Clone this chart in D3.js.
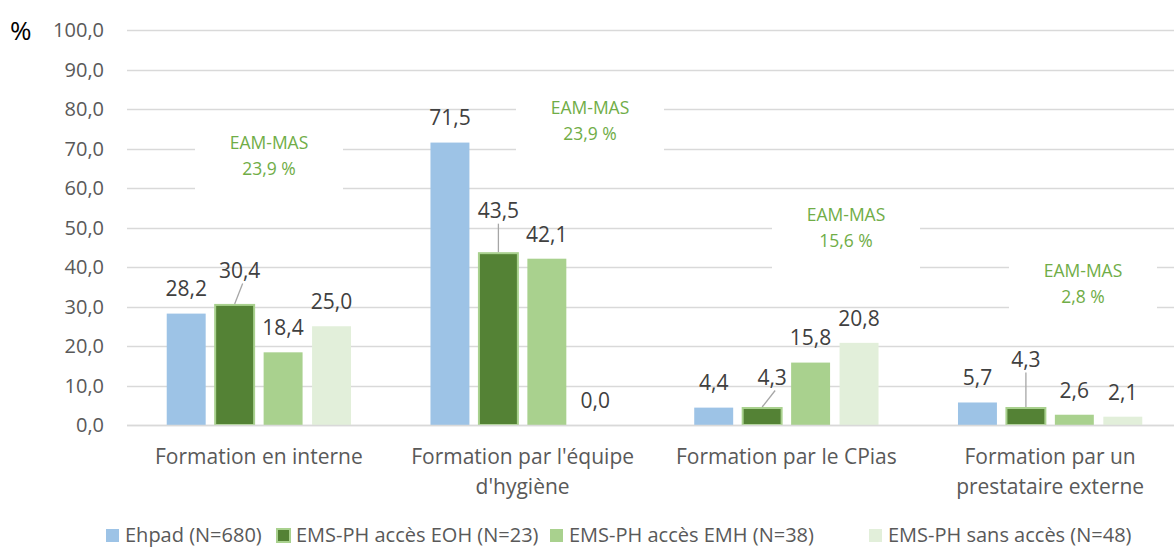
<!DOCTYPE html>
<html>
<head>
<meta charset="utf-8">
<script src="https://cdn.jsdelivr.net/npm/d3@7"></script>
<style>
  body { margin: 0; background: #fff; }
  svg { font-family: 'Open Sans', 'Noto Sans', sans-serif; }
</style>
</head>
<body>
<svg id="chart" width="1174" height="548"></svg>
<script>
// categories and series
const categories = [
  ["Formation en interne"],
  ["Formation par l'équipe", "d'hygiène"],
  ["Formation par le CPias"],
  ["Formation par un", "prestataire externe"]
];
const seriesNames = [
  "Ehpad (N=680)",
  "EMS-PH accès EOH (N=23)",
  "EMS-PH accès EMH (N=38)",
  "EMS-PH sans accès (N=48)"
];
const ehpad = [28.2, 71.5, 4.4, 5.7];
const accesEOH = [30.4, 43.5, 4.3, 4.3];
const accesEMH = [18.4, 42.1, 15.8, 2.6];
const sansAcces = [25.0, 0.0, 20.8, 2.1];
const eamMas = ["23,9 %", "23,9 %", "15,6 %", "2,8 %"];
const yTicks = [0, 10, 20, 30, 40, 50, 60, 70, 80, 90, 100];

const colors = ["#9DC3E6", "#548235", "#A9D18E", "#E2EFDA"];

const svg = d3.select("#chart");
const width = 1174;
const margin = { left: 127, right: -8, top: 30, bottom: 123 };
const y0 = 425;

const x0 = d3.scaleBand()
  .domain(d3.range(categories.length))
  .range([margin.left, width - margin.right]);

const x1 = d3.scaleBand()
  .domain(d3.range(seriesNames.length))
  .range([0, x0.bandwidth()])
  .paddingInner(0.196)
  .paddingOuter(0.82);

const y = d3.scaleLinear().domain([0, 100]).range([y0, margin.top]);

// gridlines
svg.append("g")
  .selectAll("line")
  .data(yTicks)
  .join("line")
  .attr("x1", margin.left)
  .attr("x2", width)
  .attr("y1", d => Math.round(y(d)) + 0.5)
  .attr("y2", d => Math.round(y(d)) + 0.5)
  .attr("stroke", "#D9D9D9")
  .attr("stroke-width", 1.3);

// y tick labels
svg.append("g")
  .selectAll("text")
  .data(yTicks)
  .join("text")
  .attr("x", 104)
  .attr("y", d => y(d))
  .attr("dy", "0.35em")
  .attr("text-anchor", "end")
  .attr("font-size", 20)
  .attr("fill", "#595959")
  .text(d => d3.format(".1f")(d).replace(".", ","));

svg.append("text")
  .attr("x", 10)
  .attr("y", 31)
  .attr("dy", "0.35em")
  .attr("font-size", 26)
  .attr("fill", "#000")
  .text("%");

// EAM-MAS annotation boxes (white background hides gridlines)
const annY = [143, 108, 215, 271];
const annX = [269, 590, 846, 1083];
const ann = svg.append("g");
eamMas.forEach((v, i) => {
  ann.append("rect")
    .attr("x", annX[i] - 74)
    .attr("y", annY[i] - 22)
    .attr("width", 148)
    .attr("height", 26 + 52)
    .attr("fill", "#fff");
  ann.append("text")
    .attr("x", annX[i]).attr("y", annY[i]).attr("dy", "0.35em")
    .attr("text-anchor", "middle").attr("font-size", 17.5).attr("fill", "#70AD47")
    .text("EAM-MAS");
  ann.append("text")
    .attr("x", annX[i]).attr("y", annY[i] + 26).attr("dy", "0.35em")
    .attr("text-anchor", "middle").attr("font-size", 17.5).attr("fill", "#70AD47")
    .text(v);
});

// bars
const allSeries = [ehpad, accesEOH, accesEMH, sansAcces];
const rows = [];
allSeries.forEach((vals, s) => vals.forEach((v, c) => rows.push({ s, c, v })));

svg.append("g")
  .selectAll("rect")
  .data(rows)
  .join("rect")
  .attr("x", d => x0(d.c) + x1(d.s))
  .attr("y", d => y(d.v))
  .attr("width", x1.bandwidth())
  .attr("height", d => y0 - y(d.v))
  .attr("fill", d => colors[d.s])
  .attr("stroke", d => d.s === 1 ? "#A9D18E" : "none")
  .attr("stroke-width", 2);

// axis baseline
svg.append("line")
  .attr("x1", margin.left).attr("x2", width)
  .attr("y1", y0 + 0.5).attr("y2", y0 + 0.5)
  .attr("stroke", "#D9D9D9").attr("stroke-width", 1.3);

// value labels; the EOH labels were moved and get a leader line
const moved = { "1-0": [5, -10], "1-1": [0, -18], "1-2": [10, -6], "1-3": [0, -24] };
const fmt = v => d3.format(".1f")(v).replace(".", ",");
const labels = svg.append("g");
rows.forEach(d => {
  const cx = x0(d.c) + x1(d.s) + x1.bandwidth() / 2;
  const top = y(d.v);
  const off = moved[d.s + "-" + d.c] || [0, 0];
  const lx = cx + off[0];
  const ly = top - 24.5 + off[1];
  if (moved[d.s + "-" + d.c]) {
    labels.append("line")
      .attr("x1", cx).attr("y1", top - 1)
      .attr("x2", lx + (off[0] ? 3 : 0)).attr("y2", ly + 13)
      .attr("stroke", "#A6A6A6").attr("stroke-width", 1.3);
  }
  labels.append("text")
    .attr("x", lx).attr("y", ly).attr("dy", "0.35em")
    .attr("text-anchor", "middle").attr("font-size", 21).attr("fill", "#404040")
    .text(fmt(d.v));
});

// category labels
const cat = svg.append("g");
categories.forEach((lines, i) => {
  const cx = x0(i) + x0.bandwidth() / 2;
  lines.forEach((t, k) => {
    cat.append("text")
      .attr("x", cx).attr("y", 457 + k * 30).attr("dy", "0.35em")
      .attr("text-anchor", "middle").attr("font-size", 21).attr("fill", "#595959")
      .text(t);
  });
});

// legend
const legendX = [106, 277, 550, 869];
const legend = svg.append("g").attr("font-size", 20).attr("fill", "#595959");
seriesNames.forEach((n, i) => {
  legend.append("rect")
    .attr("x", legendX[i]).attr("y", 529).attr("width", 13).attr("height", 13)
    .attr("fill", colors[i])
    .attr("stroke", i === 1 ? "#A9D18E" : "none").attr("stroke-width", 2);
  legend.append("text")
    .attr("x", legendX[i] + 19).attr("y", 535).attr("dy", "0.35em")
    .text(n);
});
</script>
</body>
</html>
